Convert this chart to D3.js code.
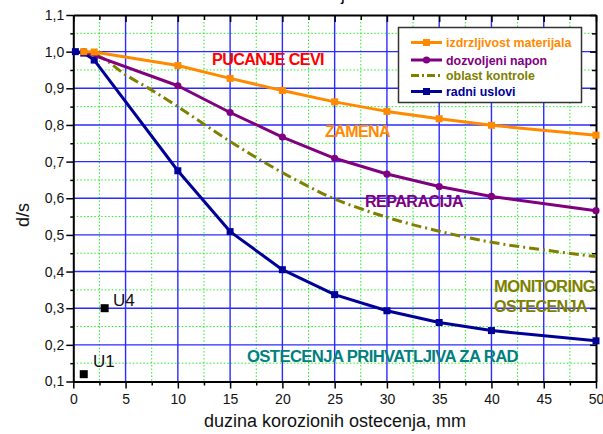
<!DOCTYPE html>
<html><head><meta charset="utf-8">
<script src="https://cdn.jsdelivr.net/npm/d3@7"></script>
<style>
html,body{margin:0;padding:0;background:#fff;}
svg{display:block;font-family:"Liberation Sans",Arial,sans-serif;}
</style></head>
<body>
<svg id="c" width="603" height="434"></svg>
<script>
// ---- data ----
const izdrzljivostX = [1, 2, 10, 15, 20, 25, 30, 35, 40, 50];
const izdrzljivostY = [1.0, 0.999, 0.962, 0.927, 0.894, 0.863, 0.837, 0.817, 0.799, 0.772];
const naponX = [1, 10, 15, 20, 25, 30, 35, 40, 50];
const naponY = [1.0, 0.907, 0.834, 0.767, 0.709, 0.666, 0.632, 0.605, 0.566];
const kontroleX = [0.3, 2.5, 5, 7.5, 10, 12.5, 15, 17.5, 20, 22.5, 25, 30, 35, 40, 45, 50];
const kontroleY = [1.0, 0.987, 0.937, 0.895, 0.850, 0.802, 0.755, 0.711, 0.670, 0.632, 0.598, 0.548, 0.510, 0.480, 0.459, 0.441];
const radniX = [0.2, 1, 2, 10, 15, 20, 25, 30, 35, 40, 50];
const radniY = [1.0, 0.996, 0.977, 0.675, 0.509, 0.405, 0.337, 0.293, 0.261, 0.239, 0.211];
const pointNames = ["U4", "U1"];
const pointX = [3, 1];
const pointY = [0.30, 0.12];
const xTicks = [0, 5, 10, 15, 20, 25, 30, 35, 40, 45, 50];
const yTicks = [0.1, 0.2, 0.3, 0.4, 0.5, 0.6, 0.7, 0.8, 0.9, 1.0, 1.1];
const legendLabels = ["izdrzljivost materijala", "dozvoljeni napon", "oblast kontrole", "radni uslovi"];
const zoneLabels = ["PUCANJE CEVI", "ZAMENA", "REPARACIJA", "MONITORING", "OSTECENJA", "OSTECENJA PRIHVATLJIVA ZA RAD"];

const svg = d3.select("#c");
const L = 73.3, R = 596, T = 15, B = 381.5;
const x = d3.scaleLinear().domain([0, 50]).range([L, R]);
const y = d3.scaleLinear().domain([0.1, 1.1]).range([B, T]);
const fmt = d => d3.format(".1f")(d).replace(".", ",");

// title fragment (cut off at top, as in the reference)
svg.append("text").attr("x", 343).attr("y", 1).attr("text-anchor", "middle")
  .attr("font-size", 17).attr("fill", "#000").text("j");

// minor grid
const g = svg.append("g");
const minorX = d3.range(2.5, 50, 5);
const minorY = d3.range(0.15, 1.1, 0.1);
g.selectAll(".mx").data(minorX).join("line")
  .attr("x1", d => x(d)).attr("x2", d => x(d)).attr("y1", T).attr("y2", B)
  .attr("stroke", "#22ee22").attr("stroke-width", 1).attr("stroke-dasharray", "1.5,2");
g.selectAll(".my").data(minorY).join("line")
  .attr("y1", d => y(d)).attr("y2", d => y(d)).attr("x1", L).attr("x2", R)
  .attr("stroke", "#22ee22").attr("stroke-width", 1).attr("stroke-dasharray", "1.5,2");
// major grid
g.selectAll(".Mx").data(xTicks.slice(1, -1)).join("line")
  .attr("x1", d => x(d)).attr("x2", d => x(d)).attr("y1", T).attr("y2", B)
  .attr("stroke", "#2b2bff").attr("stroke-width", 1.4);
g.selectAll(".My").data(yTicks.slice(1, -1)).join("line")
  .attr("y1", d => y(d)).attr("y2", d => y(d)).attr("x1", L).attr("x2", R)
  .attr("stroke", "#2b2bff").attr("stroke-width", 1.4);

// axes
const axStyle = sel => { sel.select(".domain").attr("stroke-width", 2); sel.selectAll("line").attr("stroke-width", 1.5); sel.selectAll("text").attr("font-size", 14).attr("font-family", "Liberation Sans, Arial, sans-serif").attr("fill", "#111"); };
const xBot = svg.append("g").attr("transform", `translate(0,${B})`)
  .call(d3.axisBottom(x).tickValues(xTicks).tickSize(7).tickSizeOuter(0).tickPadding(6).tickFormat(d3.format("d")));
axStyle(xBot);
const xBotMinor = svg.append("g").attr("transform", `translate(0,${B})`)
  .call(d3.axisBottom(x).tickValues(minorX).tickSize(4).tickSizeOuter(0).tickFormat(""));
xBotMinor.select(".domain").remove(); xBotMinor.selectAll("line").attr("stroke-width", 1.5);
const yLeft = svg.append("g").attr("transform", `translate(${L},0)`)
  .call(d3.axisLeft(y).tickValues(yTicks).tickSize(7).tickSizeOuter(0).tickPadding(2).tickFormat(fmt));
axStyle(yLeft);
const yLeftMinor = svg.append("g").attr("transform", `translate(${L},0)`)
  .call(d3.axisLeft(y).tickValues(minorY).tickSize(3).tickSizeOuter(0).tickFormat(""));
yLeftMinor.select(".domain").remove(); yLeftMinor.selectAll("line").attr("stroke-width", 1.5);
const xTop = svg.append("g").attr("transform", `translate(0,${T})`)
  .call(d3.axisTop(x).tickValues(xTicks).tickSize(-7).tickSizeOuter(0).tickFormat(""));
axStyle(xTop);
const xTopMinor = svg.append("g").attr("transform", `translate(0,${T})`)
  .call(d3.axisTop(x).tickValues(minorX).tickSize(-5).tickSizeOuter(0).tickFormat(""));
xTopMinor.select(".domain").remove(); xTopMinor.selectAll("line").attr("stroke-width", 1.5);
const yRight = svg.append("g").attr("transform", `translate(${R},0)`)
  .call(d3.axisRight(y).tickValues(yTicks).tickSize(-6).tickSizeOuter(0).tickFormat(""));
axStyle(yRight);
const yRightMinor = svg.append("g").attr("transform", `translate(${R},0)`)
  .call(d3.axisRight(y).tickValues(minorY).tickSize(-4).tickSizeOuter(0).tickFormat(""));
yRightMinor.select(".domain").remove(); yRightMinor.selectAll("line").attr("stroke-width", 1.5);

// axis titles
svg.append("text").attr("x", 335).attr("y", 427).attr("text-anchor", "middle")
  .attr("font-size", 18).attr("fill", "#111").text("duzina korozionih ostecenja, mm");
svg.append("text").attr("transform", "translate(29,215) rotate(-90)").attr("text-anchor", "middle")
  .attr("font-size", 18).attr("fill", "#111").text("d/s");

// series
const lineLin = d3.line().x(d => x(d[0])).y(d => y(d[1]));
const lineSmooth = d3.line().x(d => x(d[0])).y(d => y(d[1])).curve(d3.curveCatmullRom.alpha(0.5));
const series = [
  {name: legendLabels[0], xs: izdrzljivostX, ys: izdrzljivostY, color: "#ff8a00", marker: "square", dash: null},
  {name: legendLabels[1], xs: naponX, ys: naponY, color: "#800080", marker: "circle", dash: null},
  {name: legendLabels[2], xs: kontroleX, ys: kontroleY, color: "#808000", marker: null, dash: "10,4,2,4"},
  {name: legendLabels[3], xs: radniX, ys: radniY, color: "#000099", marker: "square", dash: null}
];
const drawOrder = [2, 3, 1, 0];
drawOrder.forEach(i => {
  const s = series[i];
  const pts = s.xs.map((v, k) => [v, s.ys[k]]);
  const gen = s.marker ? lineLin : lineSmooth;
  svg.append("path").attr("d", gen(pts)).attr("fill", "none").attr("stroke", s.color)
    .attr("stroke-width", 3).attr("stroke-linejoin", "round").attr("stroke-dasharray", s.dash);
  if (s.marker === "square") {
    svg.selectAll(null).data(pts).join("rect")
      .attr("x", d => x(d[0]) - 3.5).attr("y", d => y(d[1]) - 3.5).attr("width", 7).attr("height", 7).attr("fill", s.color);
  } else if (s.marker === "circle") {
    svg.selectAll(null).data(pts).join("circle")
      .attr("cx", d => x(d[0])).attr("cy", d => y(d[1])).attr("r", 3.6).attr("fill", s.color);
  }
});

// U points
pointNames.forEach((n, i) => {
  svg.append("rect").attr("x", x(pointX[i]) - 4).attr("y", y(pointY[i]) - 4).attr("width", 8).attr("height", 8).attr("fill", "#000");
});
svg.append("text").attr("x", 113).attr("y", 306).attr("font-size", 17).attr("fill", "#111").text(pointNames[0]);
svg.append("text").attr("x", 93).attr("y", 367).attr("font-size", 17).attr("fill", "#111").text(pointNames[1]);

// zone labels
const zone = (t, xx, yy, c, w) => svg.append("text").attr("x", xx).attr("y", yy).attr("font-size", 16)
  .attr("font-weight", "bold").attr("fill", c).attr("letter-spacing", -0.6)
  .attr("textLength", w).attr("lengthAdjust", "spacingAndGlyphs").text(t);
zone(zoneLabels[0], 212, 65, "#ff0000", 112);
zone(zoneLabels[1], 325, 137, "#ff8a00", 65);
zone(zoneLabels[2], 365, 207, "#800080", 98);
zone(zoneLabels[3], 494, 292, "#808000", 101);
zone(zoneLabels[4], 494, 312, "#808000", 93);
zone(zoneLabels[5], 247, 362, "#008080", 271);

// legend
const lg = svg.append("g");
lg.append("rect").attr("x", 398.5).attr("y", 27.5).attr("width", 183).attr("height", 75)
  .attr("fill", "#fff").attr("stroke", "#333").attr("stroke-width", 1.5);
const rowY = [42.5, 60, 75.5, 91.5];
series.forEach((s, i) => {
  const yy = rowY[i];
  lg.append("line").attr("x1", 411).attr("x2", 442).attr("y1", yy).attr("y2", yy)
    .attr("stroke", s.color).attr("stroke-width", 3).attr("stroke-dasharray", s.dash ? "8,3,2,3" : null);
  if (s.marker === "square") lg.append("rect").attr("x", 423).attr("y", yy - 3.5).attr("width", 7).attr("height", 7).attr("fill", s.color);
  if (s.marker === "circle") lg.append("circle").attr("cx", 426.5).attr("cy", yy).attr("r", 3.6).attr("fill", s.color);
  lg.append("text").attr("x", 446).attr("y", yy + 4.5).attr("font-size", 12.4).attr("font-weight", "bold")
    .attr("fill", s.color).text(s.name);
});
</script>
</body></html>
